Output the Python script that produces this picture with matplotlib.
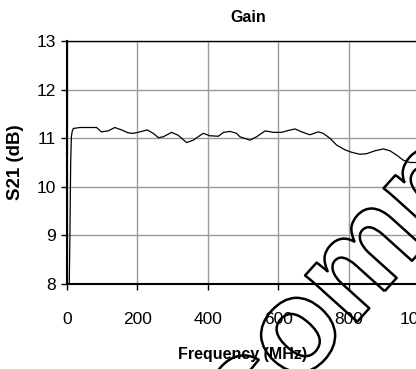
import matplotlib
matplotlib.use("Agg")
from matplotlib import pyplot as plt
from matplotlib import patheffects as pe

# measured S21 trace
freq_mhz = [5, 6.5, 8.5, 10.5, 12.5, 15, 18, 37, 60, 84, 98, 117, 136, 155, 174,
            189, 207, 228, 245, 260, 274, 297, 316, 340, 359, 387, 406, 430, 445,
            463, 482, 491, 520, 539, 563, 587, 610, 624, 648, 667, 690, 714, 728,
            747, 766, 790, 809, 832, 851, 875, 899, 918, 937, 955, 974, 991, 1000]
s21_db = [7.5, 8.0, 9.1, 10.5, 11.03, 11.15, 11.2, 11.22, 11.22, 11.22, 11.13,
          11.15, 11.22, 11.17, 11.11, 11.1, 11.13, 11.17, 11.1, 11.01, 11.03,
          11.12, 11.06, 10.91, 10.96, 11.1, 11.05, 11.04, 11.12, 11.14, 11.1,
          11.03, 10.96, 11.03, 11.15, 11.12, 11.12, 11.15, 11.19, 11.13, 11.07,
          11.13, 11.1, 11.0, 10.86, 10.76, 10.71, 10.67, 10.68, 10.74, 10.78,
          10.74, 10.65, 10.55, 10.5, 10.5, 10.48]

x_ticks = [0, 200, 400, 600, 800, 1000]
y_ticks = [8, 9, 10, 11, 12, 13]

plt.rcParams['font.family'] = ['Liberation Sans', 'DejaVu Sans']

fig = plt.figure(figsize=(4.16, 3.69), dpi=100)
ax = fig.add_axes([0.161, 0.2304, 0.846, 0.6585])

ax.plot(freq_mhz, s21_db, color='black', lw=0.9)
ax.set_xlim(0, 1000)
ax.set_ylim(8, 13)
ax.set_xticks(x_ticks)
ax.set_yticks(y_ticks)
ax.grid(True, color='#9a9a9a', lw=1.0)
ax.set_axisbelow(True)
for side in ['left', 'bottom', 'top', 'right']:
    ax.spines[side].set_color('black')
ax.spines['left'].set_linewidth(1.5)
ax.spines['bottom'].set_linewidth(1.5)
ax.spines['top'].set_linewidth(1.0)
ax.tick_params(axis='y', direction='out', length=4, width=1, pad=4, labelsize=12.5)
ax.tick_params(axis='x', direction='out', length=4, width=1, pad=16, labelsize=12.5)

fig.text(248 / 416, 1 - 18 / 369, 'Gain', ha='center', va='center',
         fontsize=11.5, fontweight='bold')
fig.text(243 / 416, 1 - 355 / 369, 'Frequency (MHz)', ha='center', va='center',
         fontsize=11.5, fontweight='bold')
fig.text(16 / 416, 1 - 162 / 369, 'S21 (dB)', ha='center', va='center',
         rotation=90, fontsize=13.5, fontweight='bold')

# outlined diagonal stamp
fig.text(248 / 416, 1 - 443 / 369, 'compliant', rotation=48,
         rotation_mode='anchor', ha='left', va='baseline', fontsize=95,
         fontweight='bold', color='none',
         path_effects=[pe.Stroke(linewidth=1.8, foreground='black')])

fig.savefig('out.png', dpi=100)
